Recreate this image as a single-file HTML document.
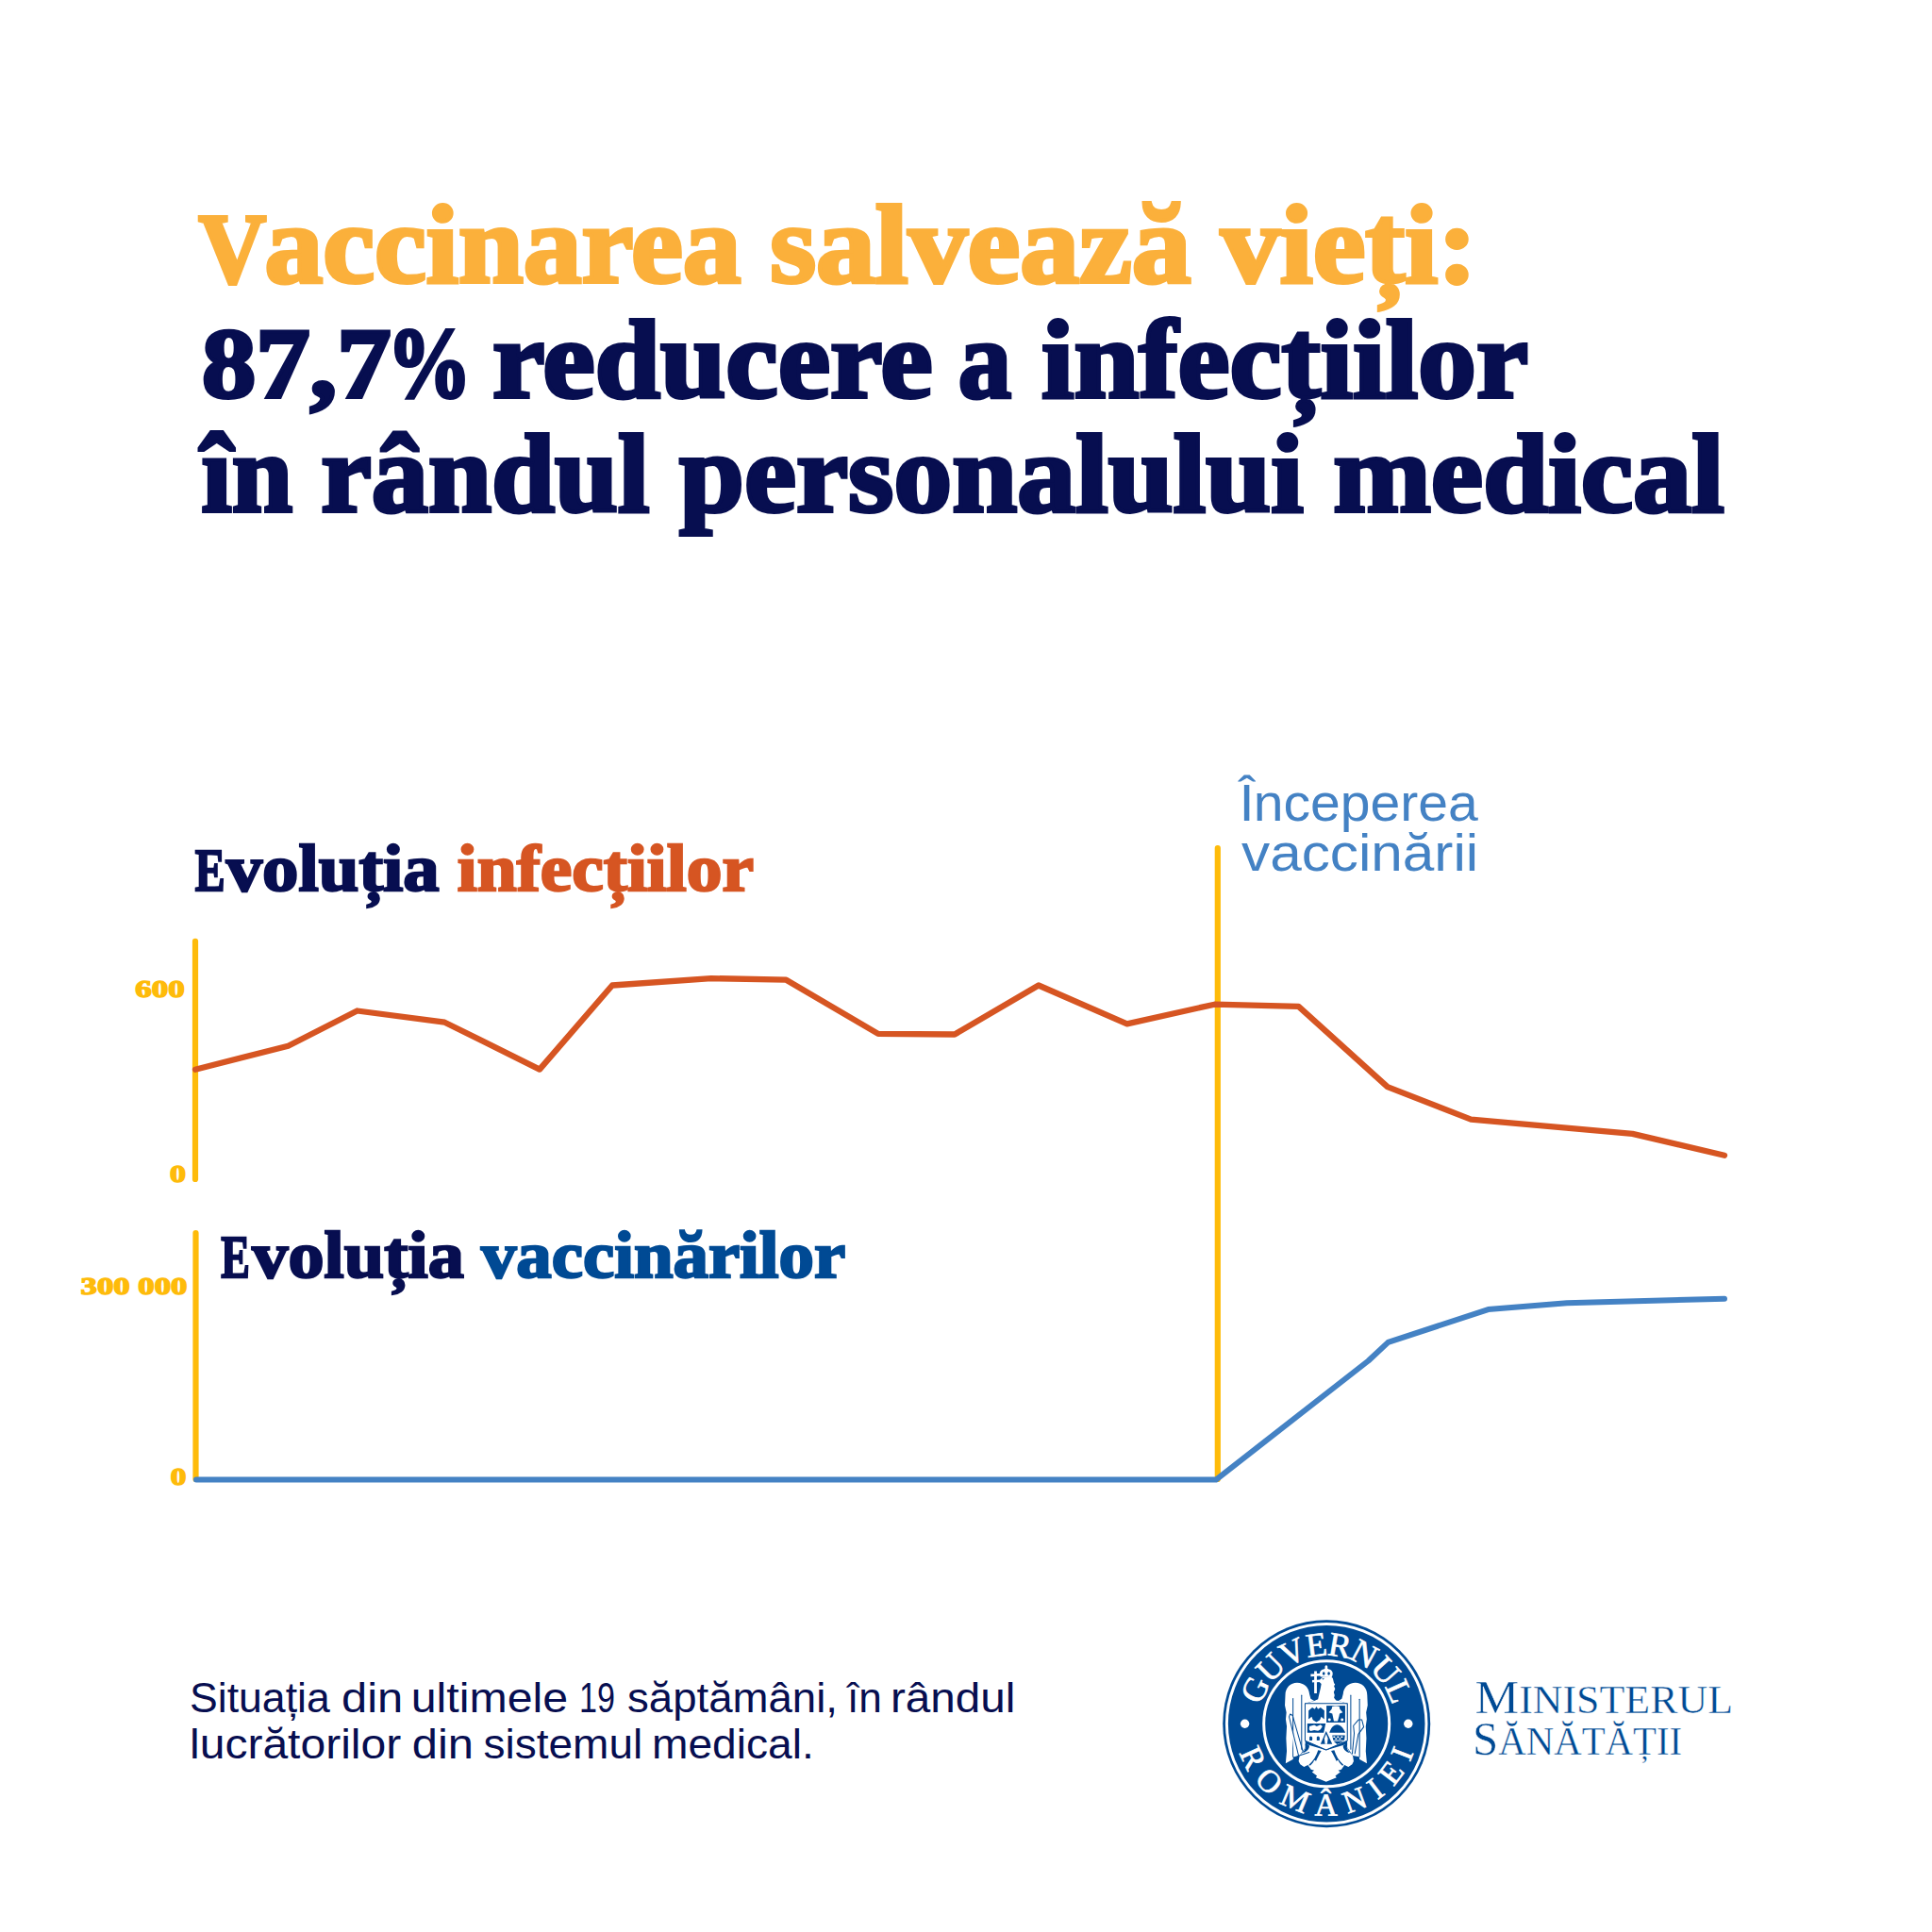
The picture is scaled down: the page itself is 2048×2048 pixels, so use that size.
<!DOCTYPE html>
<html lang="ro">
<head>
<meta charset="utf-8">
<title>Vaccinarea salvează vieți</title>
<style>
html,body{margin:0;padding:0;background:#fff;}
body{width:2048px;height:2048px;overflow:hidden;position:relative;}
svg{position:absolute;left:0;top:0;display:block;}
.t{font-family:"Liberation Serif",serif;font-weight:700;}
.s{font-family:"Liberation Sans",sans-serif;font-weight:400;}
.sc{font-family:"Liberation Serif",serif;font-weight:400;}
</style>
</head>
<body>
<svg width="2048" height="2048" viewBox="0 0 2048 2048">
<rect width="2048" height="2048" fill="#ffffff"/>

<!-- AXES -->
<g stroke="#FEBB0A" stroke-width="6.2" stroke-linecap="round" fill="none">
<line x1="207" y1="997.8" x2="207" y2="1249.9"/>
<line x1="207.5" y1="1307" x2="207.5" y2="1568"/>
<line x1="1290.8" y1="899" x2="1290.8" y2="1568"/>
</g>

<!-- DATA LINES -->
<polyline fill="none" stroke="#D65522" stroke-width="6.3" stroke-linecap="round" stroke-linejoin="round"
 points="207,1133.7 305.5,1108.8 378.6,1071.5 471.4,1083.7 572,1133.6 649,1044.5 753.9,1037.1 833.4,1038.7 930.9,1095.9 1012,1096.5 1100.9,1044.5 1194.7,1085.3 1287.4,1064.7 1376.5,1066.8 1470.8,1152.1 1559.3,1186.6 1730.5,1201.9 1828,1224.7"/>
<polyline fill="none" stroke="#4482C4" stroke-width="6.0" stroke-linecap="round" stroke-linejoin="round"
 points="208,1568.6 1289,1568.6 1450.5,1442.5 1471.5,1422.9 1577.5,1388.1 1661,1381.3 1828,1376.7"/>

<!-- TEXT -->
<text class="t" stroke-linejoin="miter" stroke-miterlimit="2.5"><tspan x="210.47" y="299.10" font-size="106" fill="#FBB03B" stroke="#FBB03B" stroke-width="4" textLength="71.66" lengthAdjust="spacingAndGlyphs">V</tspan><tspan x="280.41" y="299.10" font-size="118" fill="#FBB03B" stroke="#FBB03B" stroke-width="4" textLength="505.20" lengthAdjust="spacingAndGlyphs">accinarea</tspan> <tspan x="816.21" y="299.10" font-size="118" fill="#FBB03B" stroke="#FBB03B" stroke-width="4" textLength="446.39" lengthAdjust="spacingAndGlyphs">salvează</tspan> <tspan x="1294.02" y="299.10" font-size="118" fill="#FBB03B" stroke="#FBB03B" stroke-width="4" textLength="271.85" lengthAdjust="spacingAndGlyphs">vieți:</tspan></text>
<text class="t" stroke-linejoin="miter" stroke-miterlimit="2.5"><tspan x="214.01" y="420.60" font-size="106" fill="#070E50" stroke="#070E50" stroke-width="4" textLength="200.58" lengthAdjust="spacingAndGlyphs">87,7</tspan><tspan x="410.39" y="420.60" font-size="106" fill="#070E50" stroke="#070E50" stroke-width="4" textLength="89.15" lengthAdjust="spacingAndGlyphs">%</tspan> <tspan x="522.00" y="420.60" font-size="118" fill="#070E50" stroke="#070E50" stroke-width="4" textLength="466.59" lengthAdjust="spacingAndGlyphs">reducere</tspan> <tspan x="1015.68" y="420.60" font-size="118" fill="#070E50" stroke="#070E50" stroke-width="4" textLength="56.38" lengthAdjust="spacingAndGlyphs">a</tspan> <tspan x="1104.00" y="420.60" font-size="118" fill="#070E50" stroke="#070E50" stroke-width="4" textLength="516.00" lengthAdjust="spacingAndGlyphs">infecțiilor</tspan></text>
<text class="t" stroke-linejoin="miter" stroke-miterlimit="2.5"><tspan x="213.61" y="542.10" font-size="118" fill="#070E50" stroke="#070E50" stroke-width="4" textLength="96.48" lengthAdjust="spacingAndGlyphs">în</tspan> <tspan x="340.21" y="542.10" font-size="118" fill="#070E50" stroke="#070E50" stroke-width="4" textLength="348.39" lengthAdjust="spacingAndGlyphs">rândul</tspan> <tspan x="719.99" y="542.10" font-size="118" fill="#070E50" stroke="#070E50" stroke-width="4" textLength="661.61" lengthAdjust="spacingAndGlyphs">personalului</tspan> <tspan x="1413.21" y="542.10" font-size="118" fill="#070E50" stroke="#070E50" stroke-width="4" textLength="414.60" lengthAdjust="spacingAndGlyphs">medical</tspan></text>
<text class="t" stroke-linejoin="miter" stroke-miterlimit="2.5"><tspan x="206.69" y="944.20" font-size="70.8" fill="#070E50" stroke="#070E50" stroke-width="2.4" textLength="31.84" lengthAdjust="spacingAndGlyphs"><tspan font-size="63.6">E</tspan></tspan><tspan x="239.74" y="944.20" font-size="70.8" fill="#070E50" stroke="#070E50" stroke-width="2.4" textLength="225.87" lengthAdjust="spacingAndGlyphs">voluția</tspan> <tspan x="484.79" y="944.20" font-size="70.8" fill="#D65522" stroke="#D65522" stroke-width="2.4" textLength="314.21" lengthAdjust="spacingAndGlyphs">infecțiilor</tspan></text>
<text class="t" stroke-linejoin="miter" stroke-miterlimit="2.5"><tspan x="234.30" y="1353.60" font-size="70.8" fill="#070E50" stroke="#070E50" stroke-width="2.4" textLength="30.59" lengthAdjust="spacingAndGlyphs"><tspan font-size="63.6">E</tspan></tspan><tspan x="267.35" y="1353.60" font-size="70.8" fill="#070E50" stroke="#070E50" stroke-width="2.4" textLength="224.46" lengthAdjust="spacingAndGlyphs">voluția</tspan> <tspan x="509.97" y="1353.60" font-size="70.8" fill="#004A94" stroke="#004A94" stroke-width="2.4" textLength="386.23" lengthAdjust="spacingAndGlyphs">vaccinărilor</tspan></text>
<text class="s" stroke-linejoin="miter" stroke-miterlimit="2.5"><tspan x="1313.41" y="870.00" font-size="55" fill="#4482C4" textLength="16.19" lengthAdjust="spacingAndGlyphs">Î</tspan><tspan x="1328.81" y="870.00" font-size="55" fill="#4482C4" textLength="237.99" lengthAdjust="spacingAndGlyphs">nceperea</tspan></text>
<text class="s" stroke-linejoin="miter" stroke-miterlimit="2.5"><tspan x="1316.00" y="923.40" font-size="55" fill="#4482C4" textLength="251.20" lengthAdjust="spacingAndGlyphs">vaccinării</tspan></text>
<text class="s" stroke-linejoin="miter" stroke-miterlimit="2.5"><tspan x="201.03" y="1814.60" font-size="44" fill="#070E50" textLength="148.78" lengthAdjust="spacingAndGlyphs">Situația</tspan> <tspan x="362.00" y="1814.60" font-size="44" fill="#070E50" textLength="65.21" lengthAdjust="spacingAndGlyphs">din</tspan> <tspan x="435.78" y="1814.60" font-size="44" fill="#070E50" textLength="166.43" lengthAdjust="spacingAndGlyphs">ultimele</tspan> <tspan x="614.02" y="1814.60" font-size="44" fill="#070E50" textLength="37.97" lengthAdjust="spacingAndGlyphs">19</tspan> <tspan x="665.00" y="1814.60" font-size="44" fill="#070E50" textLength="223.02" lengthAdjust="spacingAndGlyphs">săptămâni,</tspan> <tspan x="897.93" y="1814.60" font-size="44" fill="#070E50" textLength="36.92" lengthAdjust="spacingAndGlyphs">în</tspan> <tspan x="943.95" y="1814.60" font-size="44" fill="#070E50" textLength="132.49" lengthAdjust="spacingAndGlyphs">rândul</tspan></text>
<text class="s" stroke-linejoin="miter" stroke-miterlimit="2.5"><tspan x="201.01" y="1864.10" font-size="44" fill="#070E50" textLength="224.19" lengthAdjust="spacingAndGlyphs">lucrătorilor</tspan> <tspan x="436.77" y="1864.10" font-size="44" fill="#070E50" textLength="65.28" lengthAdjust="spacingAndGlyphs">din</tspan> <tspan x="512.60" y="1864.10" font-size="44" fill="#070E50" textLength="168.60" lengthAdjust="spacingAndGlyphs">sistemul</tspan> <tspan x="690.97" y="1864.10" font-size="44" fill="#070E50" textLength="171.87" lengthAdjust="spacingAndGlyphs">medical.</tspan></text>
<text class="t" stroke-linejoin="miter" stroke-miterlimit="2.5"><tspan x="143.37" y="1056.60" font-size="25.6" fill="#FEBB0A" stroke="#FEBB0A" stroke-width="1.4" textLength="52.41" lengthAdjust="spacingAndGlyphs">600</tspan></text>
<text class="t" stroke-linejoin="miter" stroke-miterlimit="2.5"><tspan x="180.00" y="1253.30" font-size="25.6" fill="#FEBB0A" stroke="#FEBB0A" stroke-width="1.4" textLength="16.94" lengthAdjust="spacingAndGlyphs">0</tspan></text>
<text class="t" stroke-linejoin="miter" stroke-miterlimit="2.5"><tspan x="85.57" y="1372.00" font-size="25.6" fill="#FEBB0A" stroke="#FEBB0A" stroke-width="1.4" textLength="112.84" lengthAdjust="spacingAndGlyphs">300 000</tspan></text>
<text class="t" stroke-linejoin="miter" stroke-miterlimit="2.5"><tspan x="180.81" y="1573.90" font-size="25.6" fill="#FEBB0A" stroke="#FEBB0A" stroke-width="1.4" textLength="16.61" lengthAdjust="spacingAndGlyphs">0</tspan></text>
<text class="sc" stroke-linejoin="miter" stroke-miterlimit="2.5"><tspan x="1563.40" y="1815.80" font-size="43" fill="#004A94" stroke="#ffffff" stroke-width="0.45" textLength="273.59" lengthAdjust="spacingAndGlyphs"><tspan font-size="51.5">M</tspan>INISTERUL</tspan></text>
<text class="sc" stroke-linejoin="miter" stroke-miterlimit="2.5"><tspan x="1560.99" y="1860.00" font-size="43" fill="#004A94" stroke="#ffffff" stroke-width="0.45" textLength="222.21" lengthAdjust="spacingAndGlyphs"><tspan font-size="51.5">S</tspan>ĂNĂTĂȚII</tspan></text>

<!-- LOGO -->
<g id="logo">
<circle cx="1406.2" cy="1827.2" r="110" fill="#004A94"/>
<circle cx="1406.2" cy="1827.3" r="105.8" fill="none" stroke="#fff" stroke-width="3"/>
<circle cx="1406.2" cy="1827.3" r="66.5" fill="none" stroke="#fff" stroke-width="3"/>
<circle cx="1319.6" cy="1827.2" r="4.7" fill="#fff"/>
<circle cx="1492.8" cy="1827.2" r="4.7" fill="#fff"/>
<defs>
<path id="arcTop" d="M 1333.90,1827.30 A 72.3,72.3 0 0 1 1478.50,1827.30"/>
<path id="arcBot" d="M 1309.00,1827.30 A 97.2,97.2 0 0 0 1503.40,1827.30"/>
</defs>
<g class="sc" fill="#fff" stroke="#fff" stroke-width="0.7" text-anchor="middle">
<text font-size="36"><textPath href="#arcTop" startOffset="50%" textLength="188" lengthAdjust="spacing">GUVERNUL</textPath></text>
<text font-size="33.6"><textPath href="#arcBot" startOffset="50%" textLength="243" lengthAdjust="spacing">ROMÂNIEI</textPath></text>
</g>
<!-- eagle: coordinates in 14.86x zoom space of region (1346,1762) -->
<g transform="translate(1346,1762) scale(0.067295)">
<g fill="#fff" stroke="none">
<!-- wings -->
<path id="wingL" d="M700,610 L645,575 L625,500 C615,400 540,325 430,325 C330,325 245,400 245,520 L238,680 L262,790 L252,900 L268,1010 L258,1200 L268,1400 L250,1592 L365,1532 L372,1488 L470,1470 L520,1400 L560,1340 L556,650 Z"/>
<use href="#wingL" transform="translate(1780,0) scale(-1,1)"/>
<!-- neck + head -->
<path d="M556,652 L700,608 L760,585 L778,500 L800,410 L812,340 L770,300 L800,262 L835,235 L960,232 L992,250 L1012,330 L1028,345 L1012,380 L1030,420 L1008,470 L1022,520 L1012,560 L1045,600 L1100,612 L1222,652 Z"/>
<!-- crown -->
<path d="M800,232 C770,180 790,120 850,112 L872,95 C860,70 875,50 890,50 C905,50 920,70 908,95 L930,112 C990,120 1010,180 975,236 Z"/>
<!-- cross -->
<path d="M700,140 L742,140 L742,180 L800,178 L800,215 L742,218 L742,278 L790,276 L790,312 L742,314 L742,490 L700,490 L700,316 L668,318 L668,282 L700,280 L700,222 L645,225 L645,186 L700,184 Z"/>
<!-- shield -->
<path d="M556,650 L1222,650 L1222,1235 L888,1382 L556,1235 Z"/>
<!-- legs, claws and tail -->
<path d="M600,1300 L560,1340 L520,1420 L470,1470 L455,1560 L480,1610 L540,1650 L600,1620 L650,1690 L700,1705 L665,1730 L745,1790 L725,1815 L888,1884 L1052,1815 L1032,1790 L1112,1730 L1078,1705 L1128,1690 L1178,1620 L1238,1650 L1298,1610 L1322,1560 L1308,1470 L1258,1420 L1218,1340 L1180,1300 L888,1385 Z"/>
</g>
<g fill="#004A94" stroke="none">
<!-- crown holes -->
<ellipse cx="850" cy="178" rx="20" ry="26"/><ellipse cx="930" cy="178" rx="20" ry="26"/>
<path d="M818,262 L860,250 L845,275 Z"/>
<!-- blue slivers between legs and tail -->
<path d="M762,1385 C735,1470 690,1555 610,1622 L640,1628 C660,1600 690,1580 700,1540 L730,1555 C745,1520 770,1470 812,1398 Z"/>
<path d="M1016,1385 C1043,1470 1088,1555 1168,1622 L1138,1628 C1118,1600 1088,1580 1078,1540 L1048,1555 C1033,1520 1008,1470 966,1398 Z"/>
<path d="M556,1290 C575,1340 555,1395 512,1428 C590,1420 630,1350 622,1312 Z"/>
<path d="M1222,1290 C1203,1340 1223,1395 1266,1428 C1188,1420 1148,1350 1156,1312 Z"/>
<path d="M640,1470 L700,1440 L690,1500 L740,1480 L690,1580 L650,1560 Z" opacity="0.0"/>
<!-- shield quarters -->
<path d="M893,685 L1188,685 L1188,950 L893,950 Z"/>
<path d="M592,965 L880,965 L850,1110 L592,1112 Z"/>
<!-- Q1 eagle -->
<path d="M735,700 L760,740 L800,715 L860,760 L858,900 L810,860 L790,910 L735,945 L680,910 L660,860 L610,900 L612,760 L670,715 L710,740 Z"/>
<!-- Q3 dolphins -->
<path d="M625,1180 C640,1160 670,1165 672,1200 L668,1235 L625,1235 Z"/>
<path d="M740,1180 C755,1160 785,1165 787,1200 L783,1235 L740,1235 Z"/>
<!-- Q4 -->
<path d="M940,1110 C960,1040 1000,990 1060,985 C1120,990 1160,1040 1190,1110 Z"/>
<path d="M985,1150 L1185,1150 L1175,1230 L1000,1230 Z"/>
<path d="M1005,1245 L1170,1245 L1060,1292 Z"/>
<!-- centre triangle -->
<path d="M888,1085 L800,1290 L985,1290 Z"/>
</g>
<g fill="#fff" stroke="none">
<!-- bull head -->
<path d="M985,700 C1000,690 1075,690 1095,700 L1105,740 L1150,790 L1100,810 L1090,860 L1070,930 L1010,930 L995,860 L985,810 L930,790 L975,740 Z"/>
<circle cx="940" cy="905" r="22"/><circle cx="1140" cy="905" r="22"/>
<!-- lion -->
<path d="M625,1010 L700,990 L740,1010 L800,985 L830,1010 L800,1060 L760,1080 L700,1070 L640,1085 L620,1060 Z"/>
<!-- checker -->
<path d="M1000,1165 L1030,1165 L1030,1190 L1000,1190 Z M1060,1165 L1090,1165 L1090,1190 L1060,1190 Z M1120,1165 L1150,1165 L1150,1190 L1120,1190 Z M1030,1195 L1060,1195 L1060,1220 L1030,1220 Z M1090,1195 L1120,1195 L1120,1220 L1090,1220 Z"/>
<path d="M860,1200 L888,1130 L916,1200 L905,1290 L870,1290 Z"/>
</g>
<g fill="none" stroke="#004A94" stroke-width="15" stroke-linejoin="round" stroke-linecap="round">
<!-- shield outline -->
<path d="M556,650 L1222,650 L1222,1235 L888,1382 L556,1235 Z"/>
<!-- feather lines -->
<path d="M366,572 L366,1490"/><path d="M502,522 L502,1370"/>
<path d="M1414,582 L1414,1490"/><path d="M1276,522 L1276,1370"/>
<!-- sword -->
<path d="M322,818 L305,860 L455,1475 L385,1500 M455,1475 L620,1420 M360,840 L322,818 M360,840 L520,1400" fill="#fff"/>
<!-- mace -->
<path d="M1300,1440 L1330,1120 L1318,1000 L1400,905 L1450,905 L1480,1020 L1395,1135 L1340,1440"/>
</g>
</g>
</g>

</svg>
</body>
</html>
